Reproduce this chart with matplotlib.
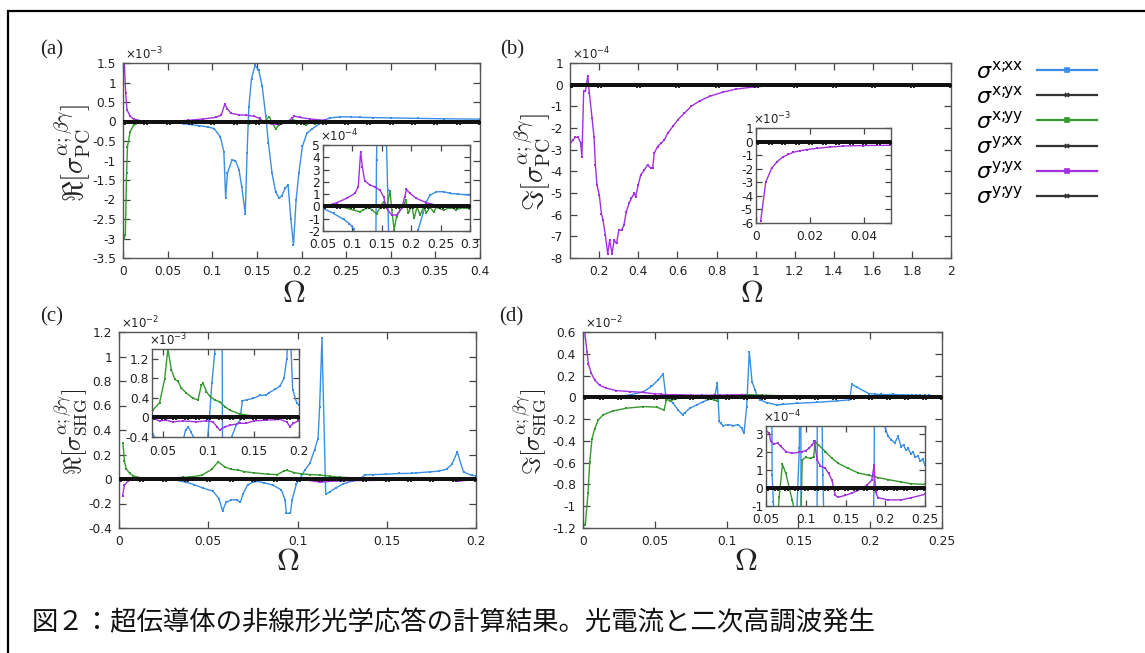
import matplotlib
matplotlib.use('Agg')
import matplotlib.pyplot as plt
from matplotlib.lines import Line2D
from matplotlib.patches import Rectangle
import numpy as np

# ---------------- data (panel units: a:1e-3, b:1e-4, c:1e-2, d:1e-2) ----------------
# Panel (a)  Re sigma_PC  (x 1e-3)
a_blue_x = [0, 0.02, 0.04, 0.05, 0.068, 0.085, 0.095, 0.102, 0.109, 0.113, 0.115, 0.117, 0.122, 0.126,
            0.130, 0.133, 0.137, 0.139, 0.141, 0.144, 0.148, 0.152, 0.156, 0.160, 0.163, 0.167, 0.171,
            0.175, 0.178, 0.182, 0.185, 0.188, 0.191, 0.194, 0.197, 0.201, 0.206, 0.212, 0.220, 0.226,
            0.232, 0.243, 0.255, 0.266, 0.280, 0.300, 0.330, 0.360, 0.400]
a_blue_y = [0, 0, 0, -0.016, -0.057, -0.106, -0.14, -0.18, -0.39, -0.77, -1.95, -1.33, -0.99, -1.0,
            -1.24, -1.67, -2.36, -0.82, 0.38, 1.1, 1.44, 1.32, 0.9, 0.13, -0.56, -1.33, -1.8,
            -1.97, -1.9, -1.7, -1.63, -2.49, -3.17, -2.0, -1.33, -0.64, -0.30, -0.19, -0.057, 0.04,
            0.092, 0.119, 0.12, 0.106, 0.1, 0.092, 0.08, 0.07, 0.06]
a_purple_x = [0.0015, 0.003, 0.0045, 0.008, 0.012, 0.02, 0.04, 0.053, 0.073, 0.09, 0.104, 0.11, 0.114,
              0.117, 0.121, 0.13, 0.138, 0.147, 0.153, 0.158, 0.167, 0.175, 0.184, 0.189, 0.192, 0.198,
              0.209, 0.226, 0.243, 0.266, 0.3, 0.35, 0.4]
a_purple_y = [1.5, 0.73, 0.3, 0.13, 0.06, 0.02, 0.005, 0.0, 0.03, 0.065, 0.106, 0.16, 0.444,
              0.32, 0.21, 0.173, 0.16, 0.133, 0.079, -0.016, -0.07, -0.07, -0.016, 0.079, 0.138, 0.106,
              0.065, 0.03, 0.01, 0.003, 0, 0, 0]
a_green_x = [0.001, 0.0026, 0.004, 0.005, 0.008, 0.012, 0.02, 0.05, 0.085, 0.102, 0.113, 0.118, 0.127,
             0.134, 0.141, 0.147, 0.153, 0.158, 0.164, 0.167, 0.171, 0.175, 0.181, 0.187, 0.191, 0.195,
             0.201, 0.205, 0.21, 0.215, 0.221, 0.226, 0.232, 0.238, 0.243, 0.255, 0.266, 0.277, 0.289,
             0.3, 0.35, 0.4]
a_green_y = [-3.0, -2.92, -1.33, -0.65, -0.26, -0.09, -0.01, 0, -0.008, -0.03, -0.043, -0.03, -0.008,
             -0.03, -0.062, -0.008, 0.038, -0.016, 0.125, -0.03, -0.19, -0.084, -0.03, 0.01, 0.05, -0.057,
             0.01, -0.098, -0.003, -0.07, -0.008, -0.05, -0.008, -0.043, -0.008, -0.03, -0.01, -0.025, -0.01,
             -0.02, -0.005, 0]
a_zero_x = [0, 0.025, 0.05, 0.075, 0.1, 0.125, 0.15, 0.175, 0.2, 0.225, 0.25, 0.275, 0.3, 0.325, 0.35,
            0.375, 0.4]
a_zero_y = [0, 0, 0, 0, 0, 0, 0, 0, 0, 0, 0, 0, 0, 0, 0, 0, 0]

# Panel (b)  Im sigma_PC  (x 1e-4)
b_purple_x = [0.0017, 0.0036, 0.0058, 0.0079, 0.0099, 0.012, 0.0138, 0.0163, 0.0188, 0.0225, 0.0274,
              0.0323, 0.0398, 0.05, 0.064, 0.078, 0.092, 0.104, 0.111, 0.12, 0.129, 0.141, 0.149, 0.163,
              0.173, 0.18, 0.188, 0.2, 0.211, 0.219, 0.231, 0.243, 0.253, 0.265, 0.276, 0.288, 0.3,
              0.314, 0.326, 0.338, 0.352, 0.364, 0.378, 0.386, 0.399, 0.412, 0.43, 0.447, 0.464, 0.473,
              0.481, 0.498, 0.515, 0.533, 0.55, 0.576, 0.602, 0.636, 0.67, 0.713, 0.765, 0.834, 0.902,
              0.988, 1.074, 1.229]
b_purple_y = [-58.8, -30.0, -19.6, -14.7, -11.4, -9.4, -7.9, -6.7, -5.9, -5.0, -4.0,
              -3.3, -2.9, -2.75, -2.55, -2.43, -2.43, -2.67, -3.32, -0.31, -0.31, 0.41, -0.39, -1.55,
              -2.43, -3.7, -4.63, -5.1, -5.95, -6.25, -6.95, -7.8, -7.18, -7.8, -7.18, -7.33, -6.72,
              -6.72, -6.48, -5.87, -5.48, -5.25, -5.02, -5.17, -4.63, -4.17, -3.94, -3.7, -3.86, -3.86,
              -3.17, -2.86, -2.71, -2.55, -2.24, -1.93, -1.62, -1.31, -1.0, -0.75, -0.54, -0.34, -0.2,
              -0.11, -0.05, -0.02]
b_zero_x = [0, 0.005, 0.01, 0.015, 0.02, 0.025, 0.03, 0.035, 0.04, 0.045, 0.05, 0.2, 0.4, 0.6, 0.8,
            1.0, 1.2, 1.4, 1.6, 1.8, 2.0]
b_zero_y = [0, 0, 0, 0, 0, 0, 0, 0, 0, 0, 0, 0, 0, 0, 0, 0, 0, 0, 0, 0, 0]

# Panel (c)  Re sigma_SHG  (x 1e-2)
c_blue_x = [0.0007, 0.01, 0.02, 0.03, 0.0378, 0.042, 0.047, 0.0527, 0.056, 0.058, 0.060, 0.063, 0.066,
            0.068, 0.0695, 0.072, 0.075, 0.078, 0.081, 0.0863, 0.091, 0.093, 0.0938, 0.096, 0.097,
            0.0994, 0.101, 0.104, 0.107, 0.1096, 0.1115, 0.1124, 0.1137, 0.1158, 0.118, 0.1217, 0.1257,
            0.131, 0.1348, 0.1376, 0.1422, 0.1496, 0.157, 0.164, 0.1665, 0.174, 0.179, 0.1835, 0.1865,
            0.1895, 0.193, 0.1975, 0.2]
c_blue_y = [0, 0, 0, -0.003, -0.028, -0.045, -0.074, -0.1, -0.16, -0.26, -0.19, -0.17, -0.17,
            -0.19, -0.12, -0.05, -0.025, -0.02, -0.03, -0.05, -0.09, -0.17, -0.28, -0.28, -0.17,
            -0.04, -0.006, 0.07, 0.13, 0.24, 0.33, 0.59, 1.15, -0.125, -0.105, -0.07, -0.04,
            -0.015, -0.006, 0.034, 0.036, 0.039, 0.045, 0.046, 0.05, 0.058, 0.064, 0.08, 0.12,
            0.22, 0.057, 0.03, 0.025]
c_green_x = [0.0022, 0.003, 0.004, 0.006, 0.008, 0.0116, 0.017, 0.0265, 0.036, 0.039, 0.0463, 0.0519,
             0.0555, 0.0593, 0.063, 0.0666, 0.0703, 0.0759, 0.0832, 0.0887, 0.0925, 0.0942, 0.098,
             0.1017, 0.1072, 0.1127, 0.1183, 0.1238, 0.1348, 0.1496, 0.17, 0.2]
c_green_y = [0.29, 0.15, 0.085, 0.045, 0.026, 0.012, 0.004, 0.007, 0.014, 0.015, 0.03, 0.078,
             0.140, 0.098, 0.078, 0.074, 0.06, 0.05, 0.039, 0.036, 0.067, 0.070, 0.053,
             0.043, 0.036, 0.032, 0.022, 0.015, 0.007, 0.003, 0.001, 0.0]
c_purple_x = [0.002, 0.003, 0.005, 0.008, 0.02, 0.039, 0.0463, 0.0537, 0.061, 0.072, 0.0869, 0.098,
              0.105, 0.1098, 0.1127, 0.1183, 0.1238, 0.1348, 0.142, 0.15, 0.164, 0.179, 0.1865, 0.19,
              0.1938, 0.1993]
c_purple_y = [-0.14, -0.05, -0.017, -0.004, -0.002, -0.002, -0.007, -0.0056, -0.009, -0.007, -0.009,
              -0.007, -0.009, -0.019, -0.026, -0.019, -0.016, -0.012, -0.012, -0.007, -0.0056, -0.004,
              -0.009, -0.019, -0.012, -0.007]
c_zero_x = [0, 0.0125, 0.025, 0.0375, 0.05, 0.0625, 0.075, 0.0875, 0.1, 0.1125, 0.125, 0.1375, 0.15,
            0.1625, 0.175, 0.1875, 0.2]
c_zero_y = [0, 0, 0, 0, 0, 0, 0, 0, 0, 0, 0, 0, 0, 0, 0, 0, 0]

# Panel (d)  Im sigma_SHG  (x 1e-2)
d_blue_x = [0.0, 0.01, 0.02, 0.023, 0.0326, 0.0419, 0.0477, 0.0523, 0.0558, 0.0577, 0.0593, 0.0628,
            0.0663, 0.0693, 0.071, 0.0744, 0.0791, 0.0837, 0.0884, 0.0919, 0.0935, 0.0949, 0.0958,
            0.0977, 0.1012, 0.1047, 0.1081, 0.1105, 0.1121, 0.114, 0.1158, 0.1177, 0.1198, 0.1214,
            0.1233, 0.1279, 0.1349, 0.1395, 0.1488, 0.1628, 0.1767, 0.1849, 0.186, 0.1872, 0.1907,
            0.199, 0.2035, 0.2077, 0.212, 0.216, 0.22, 0.223, 0.226, 0.229, 0.232, 0.235, 0.238,
            0.241, 0.244, 0.247, 0.25]
d_blue_y = [0, 0, 0.002, 0.007, 0.022, 0.05, 0.10, 0.16, 0.215, 0.007, -0.008, -0.055,
            -0.116, -0.16, -0.14, -0.1, -0.07, -0.04, -0.017, 0.022, 0.13, -0.22, -0.24,
            -0.26, -0.25, -0.26, -0.25, -0.285, -0.33, -0.085, 0.42, 0.145, 0.068, 0.007,
            -0.024, -0.048, -0.07, -0.064, -0.055, -0.046, -0.033, -0.024, 0.007, 0.12, 0.093,
            0.035, 0.0287, 0.0268, 0.025, 0.0287, 0.023, 0.024, 0.021, 0.022, 0.019, 0.02, 0.017,
            0.018, 0.015, 0.016, 0.0128]
d_green_x = [0.0016, 0.0035, 0.0047, 0.0063, 0.0081, 0.0105, 0.014, 0.0209, 0.0302, 0.0419, 0.0512,
             0.0565, 0.0581, 0.0605, 0.065, 0.0666, 0.0707, 0.075, 0.079, 0.083, 0.087, 0.091, 0.093,
             0.0956, 0.1, 0.106, 0.11, 0.112, 0.116, 0.1247, 0.133, 0.141, 0.1537, 0.166, 0.179, 0.191,
             0.2035, 0.22, 0.2326, 0.25]
d_green_y = [-1.17, -0.88, -0.59, -0.38, -0.29, -0.21, -0.16, -0.125, -0.1, -0.085, -0.09,
             -0.116, -0.02, -0.03, -0.015, -0.005, 0.0131, 0.0081, 0.0006, -0.0069, -0.015, -0.02, -0.03,
             0.0156, 0.0171, 0.0165, 0.0174, 0.0259, 0.024, 0.0203, 0.0165, 0.0137, 0.0109, 0.0084, 0.0071,
             0.0058, 0.0047, 0.0034, 0.0024, 0.002]
d_purple_x = [0.0012, 0.0028, 0.0037, 0.0058, 0.0081, 0.0116, 0.0163, 0.0233, 0.0326, 0.0419, 0.05,
              0.054, 0.056, 0.06, 0.0645, 0.0687, 0.075, 0.083, 0.0915, 0.0956, 0.1, 0.104, 0.108, 0.111,
              0.1143, 0.1185, 0.1247, 0.1288, 0.133, 0.1371, 0.141, 0.1496, 0.158, 0.166, 0.1766, 0.183,
              0.186, 0.1878, 0.191, 0.2035, 0.22, 0.2326, 0.25]
d_purple_y = [0.6, 0.42, 0.31, 0.22, 0.16, 0.11, 0.084, 0.062, 0.053, 0.045, 0.0319,
              0.0306, 0.0259, 0.0246, 0.025, 0.0231, 0.0203, 0.0193, 0.0199, 0.0203, 0.0208, 0.0221,
              0.024, 0.0259, 0.0156, 0.0122, 0.0109, 0.0081, 0.0043, -0.0041, -0.0051, -0.0041, -0.0028,
              -0.0013, 0.0015, 0.0043, 0.0128, -0.0023, -0.0054, -0.0066, -0.0066, -0.0054, -0.0035]
d_zero_x = [0, 0.0125, 0.025, 0.0375, 0.05, 0.0625, 0.075, 0.0875, 0.1, 0.1125, 0.125, 0.1375, 0.15,
            0.1625, 0.175, 0.1875, 0.2, 0.2125, 0.225, 0.2375, 0.25]
d_zero_y = [0, 0, 0, 0, 0, 0, 0, 0, 0, 0, 0, 0, 0, 0, 0, 0, 0, 0, 0, 0, 0]

legend_labels = [r'$\sigma^{\mathrm{x;\!\!xx}}$', r'$\sigma^{\mathrm{x;\!\!yx}}$', r'$\sigma^{\mathrm{x;\!\!yy}}$',
                 r'$\sigma^{\mathrm{y;\!\!xx}}$', r'$\sigma^{\mathrm{y;\!\!yx}}$', r'$\sigma^{\mathrm{y;\!\!yy}}$']
caption = '図２：超伝導体の非線形光学応答の計算結果。光電流と二次高調波発生'

# ---------------- style ----------------
BLUE = '#3a8ee6'
GREEN = '#35992f'
PURPLE = '#a030e0'
BLACK = '#111111'

W, H = 1145, 653
fig = plt.figure(figsize=(W / 100, H / 100), dpi=100)


def box(l, t, r, b):
    return [l / W, 1 - b / H, (r - l) / W, (b - t) / H]


def fmt(v):
    s = f'{v:.4g}'
    return '0' if s in ('-0', '0') else s


def style(ax, xl, yl, xt, yt, tick_len=4.5):
    ax.set_xlim(xl)
    ax.set_ylim(yl)
    ax.set_xticks(xt)
    ax.set_yticks(yt)
    ax.set_xticklabels([fmt(v) for v in xt])
    ax.set_yticklabels([fmt(v) for v in yt])
    ax.tick_params(direction='in', top=True, right=True, length=tick_len, width=0.9,
                   labelsize=8.8, color='#444444', labelcolor='#222222', pad=5)
    for s in ax.spines.values():
        s.set_color('#555555')
        s.set_linewidth(1.0)


def colored(ax, x, y, color, scale=1.0):
    return ax.plot(x, np.asarray(y) * scale, color=color, lw=1.0, marker='s', ms=1.8,
                   mew=0, zorder=2)[0]


def zeros(ax, x, y, scale=1.0):
    h = None
    for _ in range(3):
        h = ax.plot(x, np.asarray(y) * scale, color=BLACK, lw=2.8, marker='x', ms=3.2,
                    mew=1.0, zorder=3)[0]
    return h


def offset(ax, txt, dx=0.005, dy=0.004, fs=8.5):
    ax.text(dx, 1 + dy, r'$\times\mathregular{10^{%s}}$' % txt, transform=ax.transAxes,
            fontsize=fs, va='bottom', ha='left', color='#222222')


# ---------- (a) ----------
axa = fig.add_axes(box(123, 63, 480, 258))
colored(axa, a_blue_x, a_blue_y, BLUE)
colored(axa, a_green_x, a_green_y, GREEN)
colored(axa, a_purple_x, a_purple_y, PURPLE)
zeros(axa, a_zero_x, a_zero_y)
style(axa, (0, 0.4), (-3.5, 1.5), [0, 0.05, 0.1, 0.15, 0.2, 0.25, 0.3, 0.35, 0.4],
      [-3.5, -3, -2.5, -2, -1.5, -1, -0.5, 0, 0.5, 1, 1.5], tick_len=5)
offset(axa, '-3')

ia = fig.add_axes(box(323, 145, 470, 231))
colored(ia, a_blue_x, a_blue_y, BLUE, 10)
colored(ia, a_green_x, a_green_y, GREEN, 10)
colored(ia, a_purple_x, a_purple_y, PURPLE, 10)
zeros(ia, a_zero_x, a_zero_y, 10)
style(ia, (0.05, 0.3), (-2, 5), [0.05, 0.1, 0.15, 0.2, 0.25, 0.3], [-2, -1, 0, 1, 2, 3, 4, 5])
ia.tick_params(axis='y', pad=2)
ia.tick_params(axis='x', pad=5)
offset(ia, '-4', dx=-0.02)

# ---------- (b) ----------
axb = fig.add_axes(box(570, 63, 951, 258))
colored(axb, b_purple_x, b_purple_y, PURPLE)
zeros(axb, b_zero_x, b_zero_y)
style(axb, (0.05, 2), (-8, 1), [0.2, 0.4, 0.6, 0.8, 1, 1.2, 1.4, 1.6, 1.8, 2],
      [-8, -7, -6, -5, -4, -3, -2, -1, 0, 1], tick_len=5)
offset(axb, '-4')

ib = fig.add_axes(box(756, 128, 891, 223))
colored(ib, b_purple_x, b_purple_y, PURPLE, 0.1)
zeros(ib, b_zero_x, b_zero_y, 0.1)
style(ib, (0, 0.05), (-6, 1), [0, 0.02, 0.04], [-6, -5, -4, -3, -2, -1, 0, 1])
ib.tick_params(axis='y', pad=2)
ib.tick_params(axis='x', pad=5)
offset(ib, '-3', dx=-0.02)

# ---------- (c) ----------
axc = fig.add_axes(box(119, 332, 476, 528))
colored(axc, c_blue_x, c_blue_y, BLUE)
colored(axc, c_green_x, c_green_y, GREEN)
colored(axc, c_purple_x, c_purple_y, PURPLE)
zeros(axc, c_zero_x, c_zero_y)
style(axc, (0, 0.2), (-0.4, 1.2), [0, 0.05, 0.1, 0.15, 0.2],
      [-0.4, -0.2, 0, 0.2, 0.4, 0.6, 0.8, 1, 1.2], tick_len=5)
offset(axc, '-2')

ic = fig.add_axes(box(152, 349, 299, 437))
colored(ic, c_blue_x, c_blue_y, BLUE, 10)
colored(ic, c_green_x, c_green_y, GREEN, 10)
colored(ic, c_purple_x, c_purple_y, PURPLE, 10)
zeros(ic, c_zero_x, c_zero_y, 10)
style(ic, (0.038, 0.2), (-0.4, 1.4), [0.05, 0.1, 0.15, 0.2], [-0.4, 0, 0.4, 0.8, 1.2])
ic.tick_params(axis='y', pad=2)
ic.tick_params(axis='x', pad=6)
offset(ic, '-3', dx=-0.02)

# ---------- (d) ----------
axd = fig.add_axes(box(583, 332, 942, 528))
colored(axd, d_blue_x, d_blue_y, BLUE)
colored(axd, d_green_x, d_green_y, GREEN)
colored(axd, d_purple_x, d_purple_y, PURPLE)
zeros(axd, d_zero_x, d_zero_y)
style(axd, (0, 0.25), (-1.2, 0.6), [0, 0.05, 0.1, 0.15, 0.2, 0.25],
      [-1.2, -1, -0.8, -0.6, -0.4, -0.2, 0, 0.2, 0.4, 0.6], tick_len=5)
offset(axd, '-2')

idd = fig.add_axes(box(766, 426, 925, 506))
colored(idd, d_blue_x, d_blue_y, BLUE, 100)
colored(idd, d_green_x, d_green_y, GREEN, 100)
colored(idd, d_purple_x, d_purple_y, PURPLE, 100)
zeros(idd, d_zero_x, d_zero_y, 100)
style(idd, (0.05, 0.25), (-1, 3.45), [0.05, 0.1, 0.15, 0.2, 0.25], [-1, 0, 1, 2, 3])
idd.tick_params(axis='y', pad=2)
idd.tick_params(axis='x', pad=5)
offset(idd, '-4', dx=-0.02)

for ax in (ia, ib, ic, idd):
    ax.set_facecolor('white')
    ax.set_zorder(5)

# ---------- labels ----------
def ptext(x, y, s, **kw):
    fig.text(x / W, 1 - y / H, s, **kw)


ylab = dict(rotation=90, ha='center', va='center', math_fontfamily='cm', color='#222222')
ptext(72, 153, r'$\Re[\sigma^{\alpha;\beta\gamma}_{\mathrm{PC}}]$', fontsize=20.5, **ylab)
ptext(532, 162, r'$\Im[\sigma^{\alpha;\beta\gamma}_{\mathrm{PC}}]$', fontsize=20.5, **ylab)
ptext(72, 432, r'$\Re[\sigma^{\alpha;\beta\gamma}_{\mathrm{SHG}}]$', fontsize=18, **ylab)
ptext(531, 432, r'$\Im[\sigma^{\alpha;\beta\gamma}_{\mathrm{SHG}}]$', fontsize=18, **ylab)

om = dict(ha='center', va='center', math_fontfamily='cm', fontsize=23, color='#222222')
ptext(294, 293, r'$\Omega$', **om)
ptext(752, 293, r'$\Omega$', **om)
ptext(288, 562, r'$\Omega$', **om)
ptext(746, 562, r'$\Omega$', **om)

pl = dict(ha='center', va='center', family='Liberation Serif', fontsize=15, color='#222222')
ptext(52, 50, '(a)', **pl)
ptext(512, 50, '(b)', **pl)
ptext(52, 317, '(c)', **pl)
ptext(511, 317, '(d)', **pl)

# ---------- legend ----------
handles = []
for c in (BLUE, BLACK, GREEN, BLACK, PURPLE, BLACK):
    handles.append(Line2D([], [], color=('#333333' if c == BLACK else c), lw=1.6,
                          marker=('x' if c == BLACK else 's'), ms=3.5, mew=1.2))
fig.legend(handles, legend_labels, loc='upper left', bbox_to_anchor=(976 / W, 1 - 60 / H),
           frameon=False, markerfirst=False, fontsize=16, handlelength=2.7,
           handletextpad=0.6, labelspacing=0.14, borderpad=0, borderaxespad=0)

# ---------- caption & border ----------
fig.text(32 / W, 1 - 623 / H, caption, fontsize=19, family=['Noto Sans CJK JP', 'DejaVu Sans'],
         ha='left', va='center', color='#111111')
fig.add_artist(Rectangle((8 / W, -0.1), 1.2, 1.1 - 11 / H, transform=fig.transFigure,
                         fill=False, edgecolor='black', lw=1.6))

fig.savefig('out.png', dpi=100)
